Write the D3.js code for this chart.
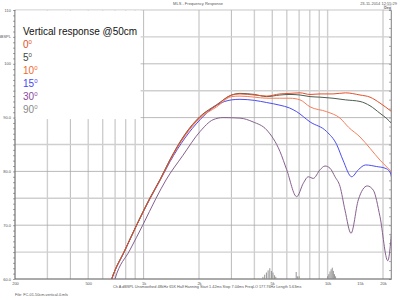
<!DOCTYPE html>
<html><head><meta charset="utf-8">
<script src="https://cdn.jsdelivr.net/npm/d3@7/dist/d3.min.js"></script>
<style>
html,body{margin:0;padding:0;background:#fff;}
svg{display:block;font-family:"Liberation Sans",Arial,sans-serif;}
</style></head>
<body>
<svg id="c" width="400" height="300"></svg>
<script>
// ---- data ----
const seriesNames = ["0", "5", "10", "15", "30", "90"];
const f0  = [650, 671, 792, 917, 1083, 1228, 1391, 1678, 2025, 2496, 3011, 3340, 4000, 4667, 5500, 6247, 7079, 8024, 9090, 10700, 12500, 15000, 17000, 19260, 22300];
const db0 = [58.5, 60, 65.4, 70, 75, 78.4, 82.1, 86.8, 90.1, 92.3, 94.2, 94.4, 94.2, 94.0, 94.4, 94.5, 94.6, 94.3, 94.4, 94.4, 94.6, 94.2, 93.8, 92.7, 91.1];
const f5  = [650, 671, 792, 917, 1083, 1228, 1391, 1678, 2025, 2496, 3011, 3340, 4000, 4667, 5500, 6247, 7079, 8024, 9090, 10700, 12500, 15000, 17000, 19260, 21000, 22300];
const db5 = [58.5, 60, 65.4, 70.1, 75.1, 78.5, 82.2, 86.9, 90.2, 92.4, 94.2, 94.5, 94.3, 93.9, 94.2, 94.3, 94.2, 93.9, 93.8, 93.6, 93.3, 93.0, 92.2, 90.8, 89.8, 88.9];
const f10  = [650, 671, 792, 917, 1083, 1228, 1391, 1678, 2025, 2496, 3011, 3340, 4000, 4667, 5500, 6247, 7079, 8024, 9886, 11680, 13000, 15000, 17000, 19260, 21000, 22300];
const db10 = [58.5, 60, 65.4, 70, 75, 78.4, 82.0, 86.6, 89.9, 92.0, 93.9, 94.0, 93.8, 93.6, 93.6, 93.6, 93.3, 92.0, 91.1, 89.9, 88.2, 86.4, 84.3, 82.1, 80.8, 79.9];
const f15  = [650, 671, 792, 917, 1083, 1228, 1391, 1678, 2025, 2496, 3011, 3340, 4000, 4667, 5510, 6200, 6792, 8024, 9886, 11200, 12120, 13520, 14680, 16100, 18490, 20500, 21830, 22300];
const db15 = [58.5, 60, 65.3, 70, 74.9, 78.3, 81.8, 86.2, 89.6, 92.3, 93.3, 93.4, 93.2, 92.8, 92.3, 91.8, 91.1, 89.2, 87.4, 85.0, 82.1, 79.0, 80.3, 81.2, 80.9, 80.6, 79.9, 78.7];
const f30  = [680, 699, 843, 989, 1168, 1323, 1637, 2025, 2384, 2700, 3340, 3932, 4667, 5510, 5995, 6792, 7378, 7852, 8361, 9090, 9682, 10300, 10970, 11680, 12430, 13400, 14680, 16430, 17720, 19260, 21230, 22300];
const db30 = [58.5, 60, 65.4, 70, 75.0, 78.4, 83.0, 87.4, 89.6, 90.0, 89.9, 89.2, 87.7, 83.7, 80.3, 75.3, 77.8, 79.0, 78.7, 80.3, 81.0, 80.6, 79.0, 77.2, 72.8, 68.5, 74.7, 77.3, 76.5, 71.6, 63.4, 69.1];
const f90  = [];
const db90 = [];
const barF  = [4450, 4550, 4650, 4750, 4850, 4950, 5050, 5150, 5230, 6750, 6850, 7000, 10000, 10150, 10300, 10450, 10600, 10750, 10900, 11050];
const barDb = [60.4, 60.8, 61.2, 61.6, 62.0, 61.5, 61.2, 60.7, 60.4, 61.3, 60.5, 60.5, 60.5, 60.9, 61.4, 61.8, 62.1, 61.5, 60.9, 60.5];
const xTickVals = [200, 500, 1000, 2000, 5000, 10000, 15000, 20000];
const xTickLabels = ["200", "500", "1k", "2k", "5k", "10k", "15k", "20k"];
const xGrid = [300, 400, 500, 600, 700, 800, 900, 1000, 2000, 3000, 4000, 5000, 6000, 7000, 8000, 9000, 10000, 20000];
const yLabelVals = [110, 105, 100, 90, 80, 70, 60];
const yLabels = ["110", "dBSPL", "100", "90.0", "80.0", "70.0", "60.0"];
const title = "MLS - Frequency Response";
const dateText = "23-11-2014 12:55:29";
const infoText = "Ch A  dBSPL  Unsmoothed  48kHz  65K  Half Hanning  Start 1.42ms  Stop 7.04ms  FreqLO 177.76Hz  Length 5.63ms";
const fileText = "File: FC-01-50cm-vertical-0.mls";
const legendTitle = "Vertical response @50cm";

// ---- styles ----
const lineColors = ["#e4502a", "#4e5c4e", "#f3805c", "#4c4cf0", "#86608e", "#8a8a8a"];
const legColors  = ["#e0501e", "#3a4a3a", "#f06a2e", "#4848f4", "#8a4a9a", "#8a8a8a"];

const L = 15, R = 391, T = 10, B = 279;
const x = d3.scaleLog().domain([200, 20000]).range([L, 383]);
const y = d3.scaleLinear().domain([60, 110]).range([B, T]);

const svg = d3.select("#c");
svg.append("defs").append("clipPath").attr("id", "clip")
  .append("rect").attr("x", L).attr("y", T).attr("width", R - L).attr("height", B - T);

// grid
const grid = svg.append("g");
grid.selectAll("line.v").data(xGrid).join("line")
  .attr("x1", d => x(d)).attr("x2", d => x(d)).attr("y1", T).attr("y2", B)
  .attr("stroke", (d, i) => (i % 2 ? "#a8a8a8" : "#cfcfcf"))
  .attr("stroke-width", (d, i) => (i % 2 ? 0.8 : 1.4));
const hVals = d3.range(65, 110, 5);
grid.selectAll("line.h").data(hVals).join("line")
  .attr("x1", L).attr("x2", R).attr("y1", d => y(d)).attr("y2", d => y(d))
  .attr("stroke", (d, i) => (i % 2 ? "#a8a8a8" : "#cfcfcf"))
  .attr("stroke-width", (d, i) => (i % 2 ? 0.8 : 1.4));

// frame
svg.append("rect").attr("x", L).attr("y", T).attr("width", R - L).attr("height", B - T)
  .attr("fill", "none").attr("stroke", "#b8b8b8").attr("stroke-width", 0.8);
svg.append("line").attr("x1", L).attr("x2", L).attr("y1", T).attr("y2", B).attr("stroke", "#555").attr("stroke-width", 0.8);
svg.append("line").attr("x1", L).attr("x2", R).attr("y1", B).attr("y2", B).attr("stroke", "#555").attr("stroke-width", 0.8);

// left axis ticks
const yAxis = d3.axisLeft(y).tickValues(d3.range(60, 111, 1)).tickSize(2).tickFormat("");
svg.append("g").attr("transform", `translate(${L},0)`).call(yAxis)
  .call(g => g.select(".domain").remove())
  .call(g => g.selectAll("line").attr("stroke", "#666").attr("stroke-width", 0.6));
svg.append("g").selectAll("text").data(yLabelVals).join("text")
  .attr("x", 11).attr("y", d => y(d) + 1.5).attr("text-anchor", "end")
  .attr("font-size", 4).attr("fill", "#555")
  .text((d, i) => yLabels[i]);

// right axis ticks
const yr = d3.scaleLinear().domain([-150, 150]).range([B, T]);
svg.append("g").attr("transform", `translate(${R},0)`)
  .call(d3.axisLeft(yr).ticks(30).tickSize(2).tickFormat(""))
  .call(g => g.select(".domain").attr("stroke", "#888").attr("stroke-width", 0.8))
  .call(g => g.selectAll("line").attr("stroke", "#777").attr("stroke-width", 0.6));
svg.append("rect").attr("x", 384).attr("y", 5.5).attr("width", 7).attr("height", 4.5)
  .attr("fill", "#fff").attr("stroke", "#bbb").attr("stroke-width", 0.4);
svg.append("text").attr("x", 387.5).attr("y", 9).attr("text-anchor", "middle")
  .attr("font-size", 3.5).attr("font-weight", "bold").attr("fill", "#666").text("Deg");

// x axis labels
const xAxis = d3.axisBottom(x).tickValues(xTickVals).tickSize(0)
  .tickFormat((d, i) => xTickLabels[i]);
svg.append("g").attr("transform", `translate(0,${B})`).call(xAxis)
  .call(g => g.select(".domain").remove())
  .call(g => g.selectAll("text").attr("font-size", 4).attr("fill", "#555").attr("dy", 0).attr("y", 5.5)
    .attr("font-family", "Liberation Sans, Arial, sans-serif"));

// legend box
svg.append("rect").attr("x", L + 0.6).attr("y", T + 0.6).attr("width", 125).attr("height", 108.5).attr("fill", "#fff");

// bars
svg.append("g").attr("clip-path", "url(#clip)").selectAll("line").data(barF).join("line")
  .attr("x1", d => x(d)).attr("x2", d => x(d))
  .attr("y1", B).attr("y2", (d, i) => y(barDb[i]))
  .attr("stroke", "#8a8a8a").attr("stroke-width", 0.9);

// curves
const series = [[f0, db0], [f5, db5], [f10, db10], [f15, db15], [f30, db30], [f90, db90]];
const line = d3.line().x(d => x(d[0])).y(d => y(d[1])).curve(d3.curveMonotoneX);
const cg = svg.append("g").attr("clip-path", "url(#clip)");
const order = [4, 3, 2, 1, 0];
order.forEach(k => {
  const pts = series[k][0].map((f, i) => [f, series[k][1][i]]);
  if (pts.length) cg.append("path").datum(pts).attr("d", line)
    .attr("fill", "none").attr("stroke", lineColors[k]).attr("stroke-width", 1);
});

// legend text
const lg = svg.append("g");
lg.append("text").attr("x", 23).attr("y", 34.5).attr("font-size", 10).attr("fill", "#111").text(legendTitle);
seriesNames.forEach((n, i) => {
  const t = lg.append("text").attr("x", 23).attr("y", 48 + i * 13.05).attr("font-size", 10).attr("fill", legColors[i]);
  t.append("tspan").text(n);
  t.append("tspan").attr("font-size", 6).attr("dy", -4).text("0");
});

// texts
svg.append("text").attr("x", 198).attr("y", 5).attr("text-anchor", "middle").attr("font-size", 4).attr("fill", "#555").text(title);
svg.append("text").attr("x", 397).attr("y", 5).attr("text-anchor", "end").attr("font-size", 4).attr("fill", "#555").text(dateText);
svg.append("text").attr("x", 113).attr("y", 288).attr("font-size", 3.8).attr("fill", "#555").text(infoText);
svg.append("text").attr("x", 15).attr("y", 296).attr("font-size", 3.8).attr("fill", "#555").text(fileText);
</script>
</body></html>
